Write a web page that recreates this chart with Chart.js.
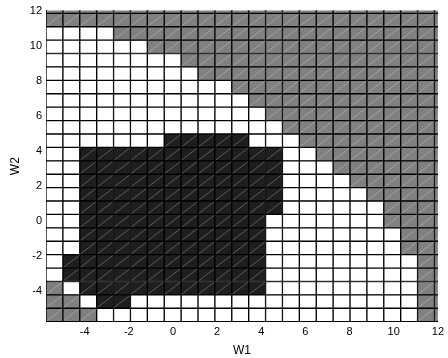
<!DOCTYPE html>
<html><head><meta charset="utf-8">
<script src="https://cdn.jsdelivr.net/npm/chart.js@4"></script>
<style>html,body{margin:0;padding:0;background:#fff}</style>
</head><body>
<canvas id="c" width="448" height="358"></canvas>
<script>
// Cell edges along W1 (columns, left to right)
const w1Edges = [-5.75, -4.985, -4.22, -3.455, -2.69, -1.925, -1.16, -0.395, 0.37, 1.135, 1.9, 2.665,
  3.43, 4.195, 4.96, 5.725, 6.49, 7.255, 8.02, 8.785, 9.55, 10.315, 11.08, 11.845, 12.61];
// Cell edges along W2 (rows, bottom to top)
const w2Edges = [-5.75, -4.985, -4.22, -3.455, -2.69, -1.925, -1.16, -0.395, 0.37, 1.135, 1.9, 2.665,
  3.43, 4.195, 4.96, 5.725, 6.49, 7.255, 8.02, 8.785, 9.55, 10.315, 11.08, 11.845, 12.61];
const xTicks = [-4, -2, 0, 2, 4, 6, 8, 10, 12];
const yTicks = [-4, -2, 0, 2, 4, 6, 8, 10, 12];
// Region of every cell, rows from top (highest W2) to bottom; columns W1 left to right
// 'g' = grey region, '.' = white region, 'b' = black region
const regionRows = [
  "gggggggggggggggggggggggg",
  "gggggggggggggggggggggggg",
  "....gggggggggggggggggggg",
  "......gggggggggggggggggg",
  "........gggggggggggggggg",
  ".........ggggggggggggggg",
  "...........ggggggggggggg",
  "............gggggggggggg",
  ".............ggggggggggg",
  "..............gggggggggg",
  ".......bbbbb...ggggggggg",
  "..bbbbbbbbbbbb..gggggggg",
  "..bbbbbbbbbbbb...ggggggg",
  "..bbbbbbbbbbbb....gggggg",
  "..bbbbbbbbbbbb.....ggggg",
  "..bbbbbbbbbbbb......gggg",
  "..bbbbbbbbbbb.......gggg",
  "..bbbbbbbbbbb........ggg",
  "..bbbbbbbbbbb........ggg",
  ".bbbbbbbbbbbb.........gg",
  ".bbbbbbbbbbbb.........gg",
  "g.bbbbbbbbbbb.........gg",
  "gg.bb.................gg",
  "ggg...................gg"
];
const regionNames = ['g', '.', 'b'];
const regionColors = { g: '#808080', '.': '#ffffff', b: '#1e1e1e' };
const regionHatch = { g: true, '.': false, b: true };

const nRows = regionRows.length;
const datasets = regionNames.map(code => {
  const data = [];
  regionRows.forEach((row, r) => {
    const j = nRows - 1 - r;
    for (let c = 0; c < row.length; c++) {
      if (row[c] === code) {
        data.push({ x: (w1Edges[c] + w1Edges[c + 1]) / 2, y: [w2Edges[j], w2Edges[j + 1]] });
      }
    }
  });
  return {
    label: code, data, hatch: regionHatch[code],
    backgroundColor: regionColors[code], borderColor: '#000', borderWidth: 1, borderSkipped: false,
    grouped: false, barPercentage: 1, categoryPercentage: 1, clip: 0
  };
});

const hatchPlugin = {
  id: 'hatch',
  afterDatasetsDraw(chart) {
    const { ctx, chartArea: a } = chart;
    ctx.save();
    ctx.beginPath();
    ctx.rect(a.left, a.top, a.right - a.left, a.bottom - a.top);
    ctx.clip();
    ctx.strokeStyle = 'rgba(255,255,255,0.35)';
    ctx.lineWidth = 0.8;
    chart.data.datasets.forEach((ds, i) => {
      if (!ds.hatch) return;
      chart.getDatasetMeta(i).data.forEach(el => {
        const p = el.getProps(['x', 'y', 'base', 'width'], true);
        const l = p.x - p.width / 2 + 1, r = p.x + p.width / 2 - 1;
        const t = Math.min(p.y, p.base) + 1, b = Math.max(p.y, p.base) - 1;
        ctx.beginPath(); ctx.moveTo(l, b); ctx.lineTo(r, t); ctx.stroke();
      });
    });
    ctx.restore();
  }
};

const fam = '"Liberation Sans", Arial, Helvetica, sans-serif';
new Chart(document.getElementById('c'), {
  type: 'bar',
  data: { datasets },
  options: {
    responsive: false, animation: false,
    layout: { padding: { top: 8, right: 8, left: 0, bottom: 0 } },
    plugins: { legend: { display: false }, tooltip: { enabled: false } },
    scales: {
      x: {
        type: 'linear', min: w1Edges[0], max: 12, offset: false,
        grid: { display: false, drawTicks: false },
        border: { display: true, color: '#000', width: 1 },
        ticks: { font: { family: fam, size: 11 }, color: '#000', padding: 4, maxRotation: 0, autoSkip: false },
        afterBuildTicks: s => { s.ticks = xTicks.map(v => ({ value: v })); },
        afterFit: s => { s.height = 36.3; },
        title: { display: true, text: 'W1', font: { family: fam, size: 12 }, color: '#000', padding: { top: 4, bottom: 0 } }
      },
      y: {
        type: 'linear', min: w2Edges[0], max: 12,
        grid: { display: false, drawTicks: false },
        border: { display: true, color: '#000', width: 1 },
        ticks: { font: { family: fam, size: 11 }, color: '#000', padding: 4, autoSkip: false },
        afterBuildTicks: s => { s.ticks = yTicks.map(v => ({ value: v })); },
        afterFit: s => { s.width = 46; },
        title: { display: true, text: 'W2', font: { family: fam, size: 12 }, color: '#000', padding: { top: 8, bottom: 0 } }
      }
    }
  },
  plugins: [hatchPlugin]
});
</script>
</body></html>
